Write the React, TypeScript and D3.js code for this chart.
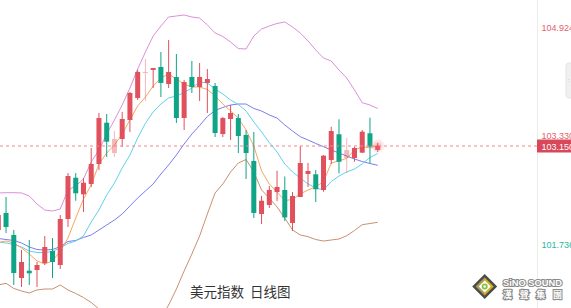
import React from "react";
import * as d3 from "d3";

const opens = [101.916,102.166,101.843,101.211,101.318,101.328,101.431,101.607,101.402,102.078,102.684,102.440,102.592,102.886,103.492,103.047,103.253,103.532,103.855,104.222,104.267,104.311,104.061,104.164,103.561,104.164,104.017,104.076,104.032,103.326,103.547,103.561,103.312,102.930,102.151,102.283,102.474,102.504,102.019,102.401,102.739,102.734,102.504,102.944,103.322,102.974,102.974,103.052,103.337,103.091];
const highs = [102.180,102.401,101.916,101.622,101.769,101.446,101.828,101.798,102.136,102.753,102.753,102.680,103.121,103.635,103.620,103.370,103.650,103.943,104.267,104.428,104.296,104.531,104.707,104.502,104.120,104.399,104.369,104.281,104.076,103.576,103.752,103.620,103.385,103.356,102.416,102.562,102.787,102.702,102.474,103.150,102.900,102.797,103.018,103.434,103.542,103.268,103.140,103.385,103.566,103.194];
const lows = [101.887,101.872,101.108,101.079,101.108,101.079,101.402,101.211,101.343,101.960,102.346,102.180,102.548,102.797,102.988,102.988,103.135,103.356,103.826,103.811,104.002,103.870,104.002,103.488,103.385,103.929,103.811,103.635,103.282,103.282,103.238,103.047,102.665,102.092,102.004,102.239,102.342,102.048,101.901,102.401,102.548,102.327,102.479,102.886,102.749,102.753,102.919,103.047,102.896,103.062];
const closes = [102.136,101.960,101.284,101.446,101.280,101.402,101.666,101.446,102.078,102.709,102.455,102.611,102.886,103.561,103.213,103.253,103.547,103.929,104.237,104.237,104.296,104.076,104.237,103.561,104.090,104.017,104.164,104.134,103.341,103.561,103.635,103.297,103.047,102.166,102.346,102.504,102.548,102.100,102.416,102.900,102.783,102.514,103.008,103.370,102.919,103.091,103.121,103.360,103.140,103.150];
const fadedCandles = [15, 19, 45];

const bollUpper = [102.460,102.464,102.464,102.460,102.415,102.298,102.210,102.195,102.224,102.504,102.562,102.665,102.915,103.091,103.326,103.532,103.752,104.002,104.281,104.531,104.766,104.913,105.045,105.060,105.075,105.045,105.030,104.928,104.810,104.759,104.678,104.582,104.575,104.766,104.869,104.913,104.950,104.972,104.898,104.810,104.693,104.560,104.443,104.399,104.267,104.149,103.973,103.786,103.752,103.701];
const bollLower = [101.108,101.133,101.057,101.020,100.990,101.035,101.049,101.049,101.108,101.035,100.983,100.924,100.851,100.755,100.653,100.564,100.491,100.447,100.447,100.476,100.520,100.623,100.814,101.049,101.314,101.563,101.828,102.151,102.460,102.592,102.768,102.900,102.952,102.768,102.504,102.386,102.254,102.092,101.916,101.843,101.818,101.776,101.754,101.769,101.784,101.832,101.909,101.994,102.011,102.029];
const ma20 = [101.791,101.776,101.762,101.725,101.666,101.630,101.622,101.630,101.671,101.747,101.762,101.806,101.843,101.916,101.989,102.063,102.151,102.269,102.386,102.489,102.592,102.739,102.871,103.018,103.179,103.326,103.451,103.583,103.672,103.716,103.752,103.767,103.767,103.701,103.664,103.605,103.561,103.459,103.370,103.287,103.238,103.187,103.140,103.091,103.047,103.003,102.959,102.922,102.893,102.866];
const ma10 = [101.740,101.725,101.703,101.666,101.607,101.585,101.585,101.600,101.652,101.718,101.754,101.828,102.034,102.210,102.430,102.606,102.827,103.018,103.268,103.484,103.650,103.767,103.855,103.885,103.936,104.002,104.090,104.076,103.987,103.914,103.826,103.760,103.664,103.503,103.356,103.201,103.062,102.886,102.768,102.680,102.592,102.533,102.504,102.628,102.709,102.768,102.812,102.886,102.981,103.040];
const ma5 = [101.732,101.754,101.725,101.652,101.563,101.461,101.416,101.461,101.607,101.798,102.092,102.371,102.577,102.886,103.047,103.165,103.326,103.532,103.738,103.870,104.031,104.149,104.208,104.134,104.061,104.017,104.017,103.980,103.885,103.767,103.664,103.561,103.385,103.150,102.783,102.592,102.474,102.349,102.364,102.445,102.504,102.548,102.628,102.900,102.930,102.969,103.091,103.140,103.121,103.157];

const axisLabels = [
  { value: 104.924, text: "104.924", color: "#e4606c" },
  { value: 103.33, text: "103.330", color: "#e4606c" },
  { value: 101.736, text: "101.736", color: "#2bb89b" },
];
const lastPrice = 103.15;
const lastPriceText = "103.150";
const title = "美元指数  日线图";

const W = 571;
const H = 308;
const PLOT_RIGHT = 537;
const UP = "#e0505d";
const DOWN = "#10a487";

export default function App() {
  const x = d3.scaleLinear().domain([0, opens.length - 1]).range([-1.7, 377.7]);
  const y = d3.scaleLinear().domain([lastPrice, 104.924]).range([146, 25.25]);
  const bodyW = 5;

  const line = d3
    .line<number>()
    .x((_, i) => x(i))
    .y((d) => y(d))
    .curve(d3.curveLinear);

  const series = [
    { data: bollUpper, color: "#dc8fdc" },
    { data: bollLower, color: "#c99070" },
    { data: ma20, color: "#7c7cf2" },
    { data: ma10, color: "#60d2ea" },
    { data: ma5, color: "#f8a65c" },
  ];

  const lastX = x(opens.length - 1);

  return (
    <svg
      width={W}
      height={H}
      style={{ position: "absolute", left: 0, top: 0, background: "#fff" }}
      fontFamily="'Liberation Sans', Arial, sans-serif"
    >
      <defs>
        <clipPath id="plot">
          <rect x={0} y={0} width={PLOT_RIGHT} height={H} />
        </clipPath>
        <radialGradient id="glow">
          <stop offset="0%" stopColor="#e8505e" stopOpacity={0.55} />
          <stop offset="100%" stopColor="#f4a0a8" stopOpacity={0} />
        </radialGradient>
      </defs>
      <rect x={0} y={0} width={W} height={H} fill="#fff" />

      <g clipPath="url(#plot)">
        {series.map((s, k) => (
          <path key={k} d={line(s.data) || ""} fill="none" stroke={s.color} strokeWidth={1} />
        ))}
        {opens.map((o, i) => {
          const c = closes[i];
          const up = c >= o;
          const col = up ? UP : DOWN;
          const cx = x(i);
          const top = y(Math.max(o, c));
          const bot = y(Math.min(o, c));
          const op = fadedCandles.includes(i) ? 0.4 : 1;
          return (
            <g key={i} opacity={op}>
              <line x1={cx} x2={cx} y1={y(highs[i])} y2={y(lows[i])} stroke={col} strokeWidth={1} />
              <rect x={cx - bodyW / 2} y={top} width={bodyW} height={Math.max(1, bot - top)} fill={col} />
            </g>
          );
        })}
        <line
          x1={0}
          x2={PLOT_RIGHT}
          y1={y(lastPrice)}
          y2={y(lastPrice)}
          stroke="#f08890"
          strokeWidth={1}
          strokeDasharray="3,3"
        />
        <circle cx={lastX} cy={y(lastPrice)} r={8} fill="url(#glow)" />
      </g>

      <line x1={PLOT_RIGHT + 0.5} x2={PLOT_RIGHT + 0.5} y1={0} y2={H} stroke="#ececec" strokeWidth={1} />

      {axisLabels.map((l, i) => (
        <text
          key={i}
          x={541.5}
          y={y(l.value) + 2.4}
          dominantBaseline="central"
          fontSize={9}
          fill={l.color}
        >
          {l.text}
        </text>
      ))}
      <rect x={PLOT_RIGHT} y={y(lastPrice) - 6.5} width={W - PLOT_RIGHT} height={13} fill="#d9485a" />
      <text x={541.5} y={y(lastPrice) + 0.5} dominantBaseline="central" fontSize={9} fill="#fff">
        {lastPriceText}
      </text>

      <rect x={566} y={63} width={10} height={35} rx={3} fill="#f0f0f0" stroke="#e4e4e4" />
      <text x={568} y={82} fontSize={5} fill="#888">:</text>

      <text
        x={190}
        y={297}
        fontSize={13.5}
        fill="#333"
        fontFamily="'Noto Sans CJK SC', sans-serif"
        style={{ whiteSpace: "pre" }}
      >
        {title}
      </text>

      <g transform="translate(484.7,286.5)">
        <polygon points="0,-12.5 12.5,0 0,12.5 -12.5,0" fill="#4b4b4b" />
        <polygon points="0,-9 9,0 0,9 -9,0" fill="#d2b126" />
        <polygon points="0,-9 -9,0 0,9" fill="#8a8a8a" opacity={0.5} />
        <polygon points="0,-6 6,0 0,6 -6,0" fill="#fff" />
        <circle r={3} fill="#86bf3f" />
        <circle r={1.2} fill="#fff" />
      </g>
      <text
        x={503}
        y={285.5}
        fontSize={9.5}
        fontWeight="bold"
        fill="#fff"
        stroke="#8a8a8a"
        strokeWidth={2.2}
        paintOrder="stroke"
        textLength={59}
        lengthAdjust="spacingAndGlyphs"
      >
        SiNO SOUND
      </text>
      <text
        x={503}
        y={297.5}
        fontSize={9}
        fontWeight="bold"
        fill="#fff"
        stroke="#8a8a8a"
        strokeWidth={2.2}
        paintOrder="stroke"
        textLength={59}
        lengthAdjust="spacing"
        fontFamily="'Noto Sans CJK TC', sans-serif"
      >
        漢聲集團
      </text>
    </svg>
  );
}
